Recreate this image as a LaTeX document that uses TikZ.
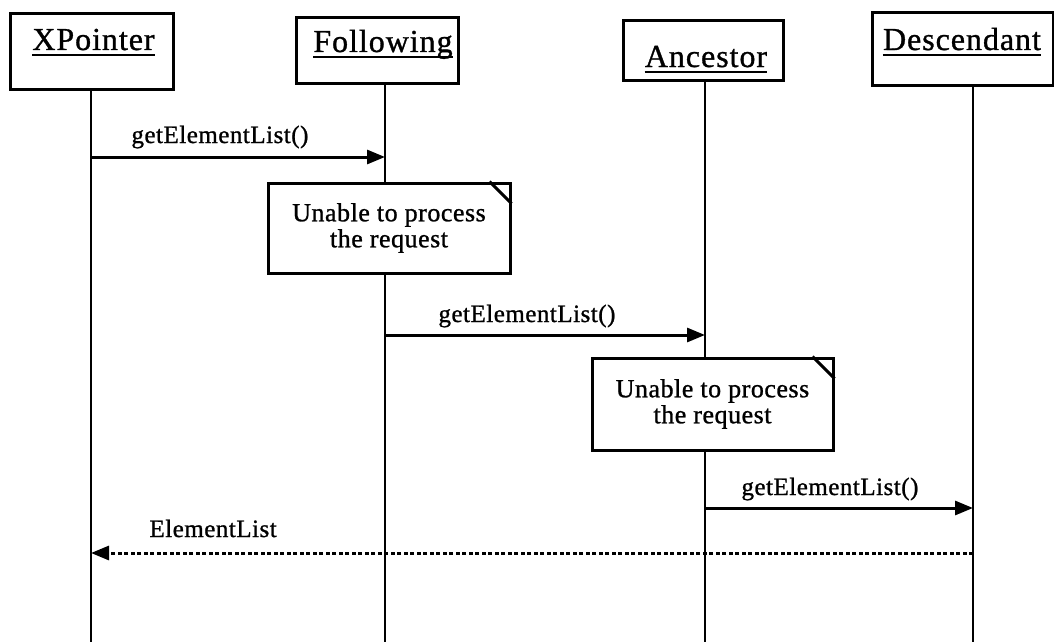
\documentclass[tikz,border=0pt]{standalone}
\usepackage{fontspec}
\setmainfont{Liberation Serif}
\newfontfamily\hdrfont[LetterSpace=3,FakeBold=1]{Liberation Serif}
\newfontfamily\lblfont[LetterSpace=2,FakeBold=1]{Liberation Serif}
\usetikzlibrary{arrows.meta}

\begin{document}
\begin{tikzpicture}[x=1pt,y=-1pt,
  objbox/.style={draw, line width=3pt, inner sep=0pt},
  objname/.style={inner sep=0pt, anchor=base, font=\hdrfont\fontsize{32}{38}\selectfont},
  uline/.style={line width=2.4pt},
  lifeline/.style={line width=1.4pt},
  notebox/.style={draw, fill=white, line width=3pt, inner sep=0pt, align=center,
    font=\lblfont\fontsize{26}{26}\selectfont},
  notefold/.style={line width=3pt},
  msg/.style={line width=3pt, -{Triangle[length=18pt,width=14pt]}},
  reply/.style={msg, dash pattern=on 4pt off 2.5pt},
  msglabel/.style={inner sep=0pt, anchor=base west, font=\lblfont\fontsize{25}{30}\selectfont},
]
\useasboundingbox (0,0) rectangle (1054,642);

% object boxes
\node[objbox, minimum width=163pt, minimum height=75pt] (xp) at (91.5,51.5) {};
\node[objbox, minimum width=162pt, minimum height=65pt] (fo) at (377,50.5) {};
\node[objbox, minimum width=160pt, minimum height=59pt] (an) at (703,50.5) {};
\node[objbox, minimum width=181pt, minimum height=72pt] (de) at (962.5,49) {};

% object names, underlined
\node[objname] (xpT) at (93.5,50) {XPointer};
\node[objname] (foT) at (383,52) {Following};
\node[objname] (anT) at (706,67) {Ancestor};
\node[objname] (deT) at (962,50) {Descendant};
\foreach \n in {xpT,foT,anT,deT}
  \draw[uline] ([yshift=-5pt]\n.base west) -- ([yshift=-5pt]\n.base east);

% lifelines
\coordinate (xpEnd) at (91,642);
\coordinate (foEnd) at (385,642);
\coordinate (anEnd) at (705,642);
\coordinate (deEnd) at (973,642);
\draw[lifeline] (xp.south -| xpEnd) -- (xpEnd);
\draw[lifeline] (fo.south -| foEnd) -- (foEnd);
\draw[lifeline] (an.south -| anEnd) -- (anEnd);
\draw[lifeline] (de.south -| deEnd) -- (deEnd);

% notes
\node[notebox, minimum width=242pt, minimum height=90pt] (n1) at (389,228)
  {Unable to process\\the request};
\draw[notefold] ([xshift=-22pt]n1.north east) -- ([yshift=-22pt]n1.north east);
\node[notebox, minimum width=241pt, minimum height=92pt] (n2) at (712.5,404)
  {Unable to process\\the request};
\draw[notefold] ([xshift=-22pt]n2.north east) -- ([yshift=-22pt]n2.north east);

% messages
\coordinate (m1s) at (xpEnd |- 0,157);
\coordinate (m1e) at (foEnd |- 0,157);
\coordinate (m2s) at (foEnd |- 0,335);
\coordinate (m2e) at (anEnd |- 0,335);
\coordinate (m3s) at (anEnd |- 0,508);
\coordinate (m3e) at (deEnd |- 0,508);
\coordinate (r1s) at (deEnd |- 0,553);
\coordinate (r1e) at (xpEnd |- 0,553);

\draw[msg] (m1s) -- (m1e) node[msglabel, pos=0, xshift=39pt, yshift=14pt] {getElementList()};
\draw[msg] (m2s) -- (m2e) node[msglabel, pos=0, xshift=52pt, yshift=13pt] {getElementList()};
\draw[msg] (m3s) -- (m3e) node[msglabel, pos=0, xshift=35pt, yshift=13pt] {getElementList()};
\draw[reply] (r1s) -- (r1e) node[msglabel, pos=1, xshift=57pt, yshift=16pt] {ElementList};
\end{tikzpicture}
\end{document}
